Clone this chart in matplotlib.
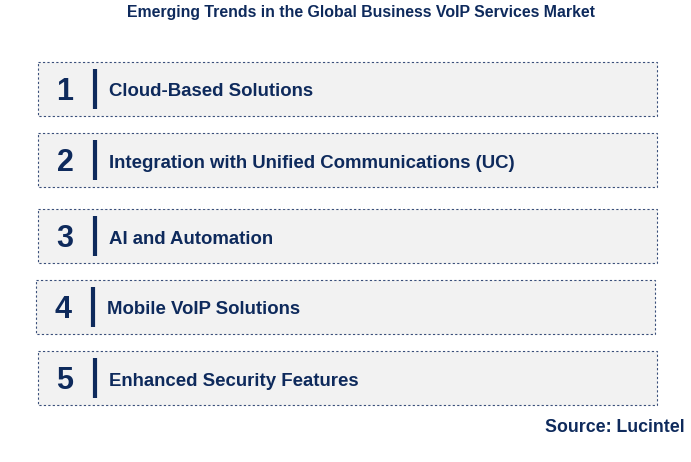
import matplotlib.pyplot as plt
import matplotlib.patches as mpatches

title = "Emerging Trends in the Global Business VoIP Services Market"
numbers = ["1", "2", "3", "4", "5"]
trends = [
    "Cloud-Based Solutions",
    "Integration with Unified Communications (UC)",
    "AI and Automation",
    "Mobile VoIP Solutions",
    "Enhanced Security Features",
]
source = "Source: Lucintel"

NAVY = "#0e2a5c"
W, H = 691, 462

fig = plt.figure(figsize=(W / 100, H / 100), dpi=100)
ax = fig.add_axes([0, 0, 1, 1])
ax.set_xlim(0, W)
ax.set_ylim(H, 0)
ax.axis("off")

ax.text(361, 12, title, ha="center", va="center", fontsize=11.4,
        fontweight="bold", color=NAVY, family="Liberation Sans")

# box tops in pixels, each box ~54 px high
tops = [62, 133, 209, 280, 351]
lefts = [38, 38, 38, 36, 38]
for i, (num, label) in enumerate(zip(numbers, trends)):
    y0 = tops[i]
    x0 = lefts[i]
    box = mpatches.Rectangle((x0, y0), 619, 54, facecolor="#f2f2f2",
                             edgecolor="#3a4f7a", linewidth=0.8,
                             linestyle=(0, (2, 2)))
    ax.add_patch(box)
    cy = y0 + 30
    ax.text(x0 + 27, cy, num, ha="center", va="center", fontsize=22,
            fontweight="bold", color=NAVY, family="Liberation Sans")
    ax.plot([x0 + 57, x0 + 57], [y0 + 7, y0 + 47], color=NAVY, linewidth=3,
            solid_capstyle="butt")
    ax.text(x0 + 71, cy, label, ha="left", va="center", fontsize=13.4,
            fontweight="bold", color=NAVY, family="Liberation Sans")

ax.text(685, 428, source, ha="right", va="center", fontsize=12.8,
        fontweight="bold", color=NAVY, family="Liberation Sans")

fig.savefig("out.png", dpi=100)
